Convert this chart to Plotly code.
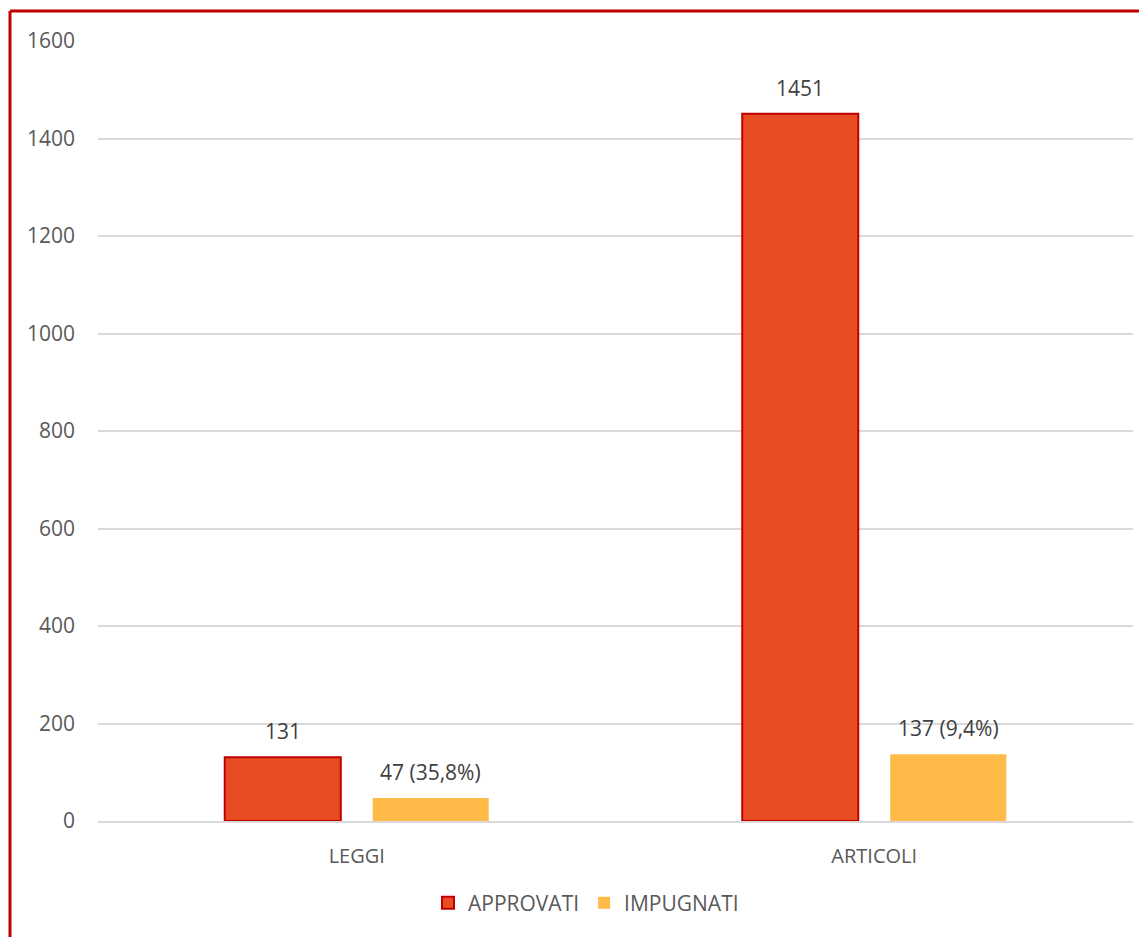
import plotly.graph_objects as go

categories = ["LEGGI", "ARTICOLI"]
approvati = [131, 1451]
impugnati = [47, 137]
approvati_labels = ["131", "1451"]
impugnati_labels = ["47 (35,8%)", "137 (9,4%)"]
y_ticks = [0, 200, 400, 600, 800, 1000, 1200, 1400, 1600]

FONT = "Open Sans"
TXT = "#595959"
FS = 21

# page body has an 8px margin: figure is sized/margined to compensate
W, H = 1139, 929
L, R, T, B = 90, 14, 33, 116
PW = W - L - R
PH = H - T - B

fig = go.Figure()
fig.add_trace(go.Bar(
    x=categories, y=approvati, name="APPROVATI",
    marker=dict(color="#E84C22", line=dict(color="#C00000", width=2)),
))
fig.add_trace(go.Bar(
    x=categories, y=impugnati, name="IMPUGNATI",
    marker=dict(color="#FFBA47", line=dict(color="#FFBA47", width=0)),
))

annotations = []
for cat, v, lab in zip(categories, approvati, approvati_labels):
    annotations.append(dict(x=cat, y=v, text=lab, showarrow=False, xshift=-74, yshift=26,
                            yanchor="middle", font=dict(family=FONT, size=FS, color="#404040")))
for cat, v, lab in zip(categories, impugnati, impugnati_labels):
    annotations.append(dict(x=cat, y=v, text=lab, showarrow=False, xshift=74, yshift=26,
                            yanchor="middle", font=dict(family=FONT, size=FS, color="#404040")))

# red frame: left edge at screen x=10, top at screen y=11
fx = (10 - 8 - L) / PW
fy = (PH + T - (11 - 8)) / PH

fig.update_layout(
    width=W, height=H,
    margin=dict(l=L, r=R, t=T, b=B),
    paper_bgcolor="white", plot_bgcolor="white",
    barmode="group", bargap=0.428, bargroupgap=0.216,
    font=dict(family=FONT, size=FS, color=TXT),
    showlegend=True,
    legend=dict(orientation="h", x=(586 - 8 - L) / PW, y=-(903 - 821) / PH,
                xanchor="center", yanchor="middle",
                font=dict(family=FONT, size=FS, color=TXT), itemwidth=30, tracegroupgap=0),
    annotations=annotations,
    shapes=[
        dict(type="line", xref="paper", yref="paper", x0=fx, x1=fx,
             y0=fy, y1=-0.2, line=dict(color="#C00000", width=3)),
        dict(type="line", xref="paper", yref="paper", x0=fx, x1=1.1,
             y0=fy, y1=fy, line=dict(color="#C00000", width=3)),
    ],
)
fig.update_yaxes(range=[0, 1600], tickvals=y_ticks, showgrid=True, gridcolor="#D9D9D9", gridwidth=1.5,
                 zeroline=False, showline=False, ticks="", ticklabelstandoff=22,
                 tickfont=dict(family=FONT, size=FS, color=TXT))
fig.update_xaxes(showline=True, linecolor="#D9D9D9", linewidth=1.5, ticks="", ticklabelstandoff=16,
                 tickfont=dict(family=FONT, size=20, color=TXT))

fig.write_html("out.html")
